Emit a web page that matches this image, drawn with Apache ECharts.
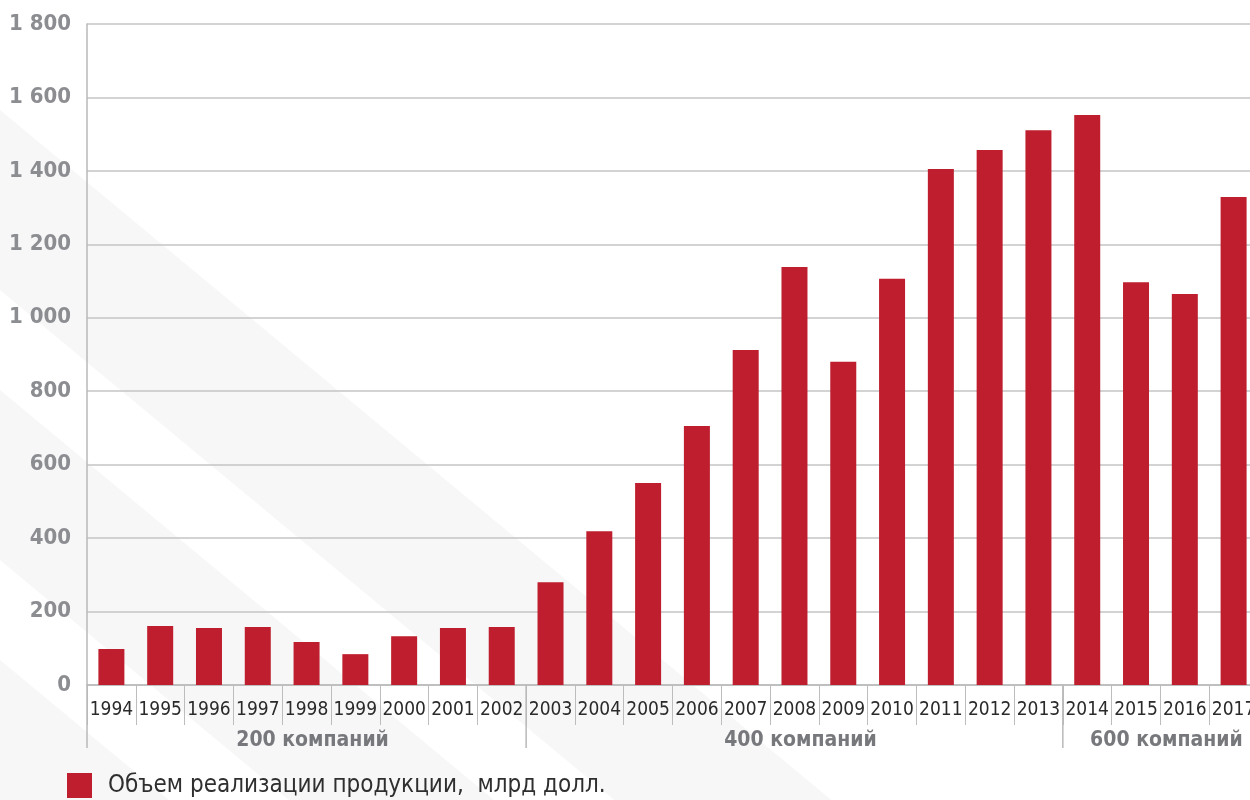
<!DOCTYPE html>
<html>
<head>
<meta charset="utf-8">
<script src="https://cdn.jsdelivr.net/npm/echarts@6/dist/echarts.min.js"></script>
<style>
html,body{margin:0;padding:0;background:#fff;}
#chart{width:1250px;height:800px;}
</style>
</head>
<body>
<div id="chart"></div>
<script>
const years = ['1994','1995','1996','1997','1998','1999','2000','2001','2002','2003','2004','2005','2006','2007','2008','2009','2010','2011','2012','2013','2014','2015','2016','2017'];
const sales = [98,161,155,158,117,84,133,155,158,280,419,550,705,912,1138,880,1106,1405,1457,1511,1552,1097,1065,1329];
const seriesName = 'Объем реализации продукции,  млрд долл.';
const groupLabels = ['200 компаний','400 компаний','600 компаний'];
const groupFirst = ['1994','2003','2014'];
const groupLast = ['2002','2013','2017'];

const NARROW = "'Liberation Sans Narrow','DejaVu Sans Condensed','Roboto Condensed','Liberation Sans',sans-serif";
const chart = echarts.init(document.getElementById('chart'));

function fmt(v){
  if (v >= 1000) { return Math.floor(v/1000) + ' ' + String(v % 1000).padStart(3,'0'); }
  return String(v);
}

// faint diagonal background stripes
const stripeBands = [[110,290],[390,560],[660,830]];
const slope = 0.83;
const stripes = stripeBands.map(b => ({
  type:'polygon', z:-100, silent:true,
  shape:{points:[[0,b[0]],[1250,b[0]+slope*1250],[1250,b[1]+slope*1250],[0,b[1]]]},
  style:{fill:'#f7f7f8'}
}));

chart.setOption({
  animation:false,
  backgroundColor:'#ffffff',
  grid:{left:87, top:24, bottom:115, width:1171, outerBoundsMode:'none', containLabel:false},
  legend:{
    left:62, top:768, itemWidth:25, itemHeight:25, icon:'rect',
    textStyle:{fontFamily:NARROW, fontSize:24, color:'#2f2f2f', padding:[0,0,0,11]},
    data:[seriesName]
  },
  xAxis:{
    type:'category', data:years,
    axisLine:{lineStyle:{color:'#b9b9b9', width:1.5}},
    axisTick:{show:true, interval:0, length:40, lineStyle:{color:'#bdbdbd', width:1}},
    axisLabel:{interval:0, margin:16, fontFamily:NARROW, fontSize:19, color:'#2a2a2a'}
  },
  yAxis:{
    type:'value', min:0, max:1800, interval:200,
    axisLine:{show:true, lineStyle:{color:'#b9b9b9', width:1.5}},
    axisTick:{show:false},
    splitLine:{lineStyle:{color:'#c4c4c4', width:1.5}},
    axisLabel:{margin:16, fontFamily:NARROW, fontWeight:'bold', fontSize:22, color:'#8c8d91', formatter:fmt}
  },
  series:[{
    name:seriesName, type:'bar', data:sales, barWidth:26,
    itemStyle:{color:'#be1e2d'}
  }],
  graphic:stripes
});

// group separators and labels, positioned through the axis scale
const c0 = chart.convertToPixel({xAxisIndex:0}, years[0]);
const c1 = chart.convertToPixel({xAxisIndex:0}, years[1]);
const band = c1 - c0;
const yZero = chart.convertToPixel({yAxisIndex:0}, 0);
const extra = [];
groupFirst.forEach((g, i) => {
  const xs = chart.convertToPixel({xAxisIndex:0}, g) - band/2;
  const xe = chart.convertToPixel({xAxisIndex:0}, groupLast[i]) + band/2;
  extra.push({type:'line', z:5, silent:true, shape:{x1:xs, y1:yZero, x2:xs, y2:yZero+63}, style:{stroke:'#b9b9b9', lineWidth:1.5}});
  extra.push({type:'text', z:5, silent:true, x:(xs+xe)/2 + 6, y:yZero+56,
    style:{text:groupLabels[i], fontFamily:NARROW, fontWeight:'bold', fontSize:21, fill:'#77787c', align:'center', verticalAlign:'middle'}});
});
chart.setOption({graphic:stripes.concat(extra)});
</script>
</body>
</html>
